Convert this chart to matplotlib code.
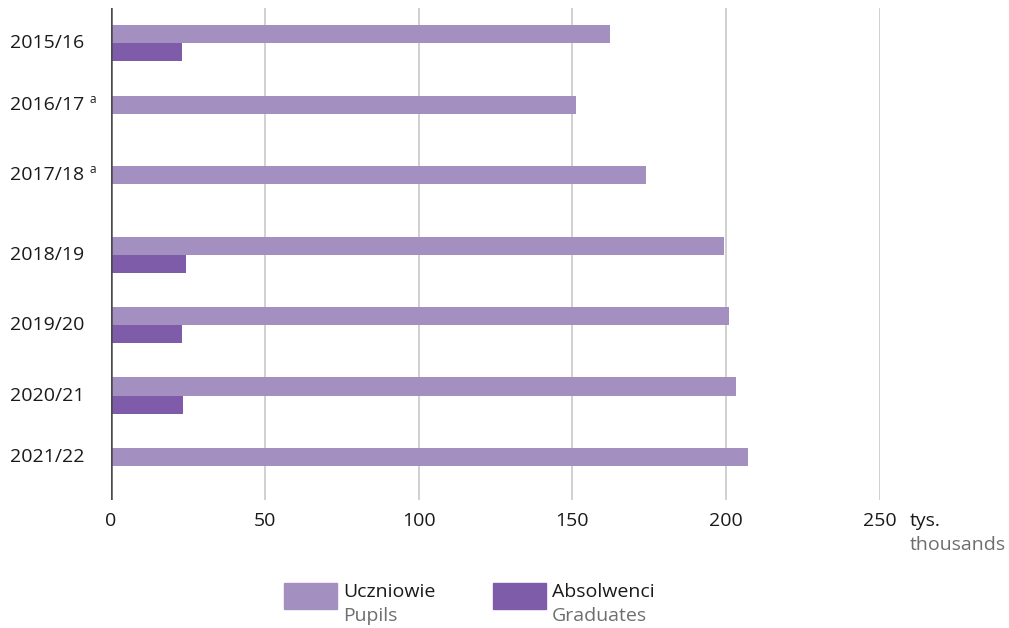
import matplotlib
matplotlib.use("Agg")
import matplotlib.pyplot as plt
from matplotlib.patches import Rectangle

plt.rcParams['font.family'] = ['Open Sans', 'DejaVu Sans']

categories = ["2015/16", "2016/17", "2017/18", "2018/19", "2019/20", "2020/21", "2021/22"]
footnotes = ["", "a", "a", "", "", "", ""]
pupils = [162.3, 151.3, 174.0, 199.3, 201.0, 203.2, 207.1]
graduates = [23.0, None, None, 24.5, 23.0, 23.3, None]
xticks = [0, 50, 100, 150, 200, 250]

c_pupils = "#a390c1"
c_grad = "#7e5caa"
fs = 14

W, H = 1009, 628
fig = plt.figure(figsize=(W / 100, H / 100), dpi=100)
ax = fig.add_axes([111 / W, 1 - 500 / H, (880 - 111) / W, (500 - 8) / H])

bh = 0.256
for i, (p, g) in enumerate(zip(pupils, graduates)):
    ax.barh(i, p, height=bh, color=c_pupils, zorder=3)
    if g is not None:
        ax.barh(i + bh, g, height=bh, color=c_grad, zorder=3)

ax.set_xlim(0, 250)
ax.set_ylim(6.61, -0.37)
ax.set_xticks(xticks)
ax.set_xticklabels([str(t) for t in xticks], fontsize=fs, color="#1a1a1a")
ax.tick_params(axis='x', length=0, pad=9)
ax.set_yticks([])
for s in ax.spines.values():
    s.set_visible(False)
ax.grid(axis='x', color="#c8c8c8", linewidth=1.2, zorder=0)
ax.axvline(0, color="#4a4a4a", linewidth=1.8, zorder=4)

trans = matplotlib.transforms.blended_transform_factory(fig.transFigure, ax.transData)
for i, (cat, fn) in enumerate(zip(categories, footnotes)):
    y = i + bh / 2 if graduates[i] is not None else i
    t = ax.text(10 / W, y, cat, transform=trans, ha='left', va='center',
                fontsize=fs, color="#1a1a1a")
    if fn:
        ax.annotate(fn, xy=(1, 0.42), xycoords=t, xytext=(4, 0),
                    textcoords='offset points', ha='left', va='bottom',
                    fontsize=8.5, color="#1a1a1a")

fig.text(910 / W, 1 - 521 / H, "tys.", ha='left', va='center', fontsize=fs, color="#1a1a1a")
fig.text(910 / W, 1 - 545 / H, "thousands", ha='left', va='center', fontsize=fs, color="#6e6e6e")

legend_items = [(284, c_pupils, "Uczniowie", "Pupils"),
                (493, c_grad, "Absolwenci", "Graduates")]
for x0, col, pl, en in legend_items:
    fig.add_artist(Rectangle((x0 / W, 1 - 609 / H), 53 / W, 26 / H,
                             transform=fig.transFigure, color=col))
    fig.text((x0 + 59) / W, 1 - 592 / H, pl, ha='left', va='center', fontsize=fs, color="#1a1a1a")
    fig.text((x0 + 59) / W, 1 - 616 / H, en, ha='left', va='center', fontsize=fs, color="#6e6e6e")

fig.savefig("out.png", dpi=100)
